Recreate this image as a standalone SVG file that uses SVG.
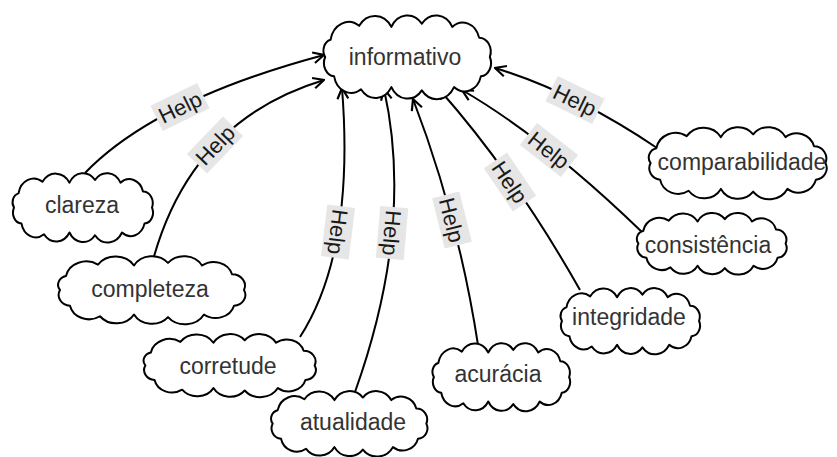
<svg xmlns="http://www.w3.org/2000/svg" width="837" height="457" viewBox="0 0 837 457">
<style>
.cloud{fill:#fff;stroke:#000;stroke-width:2;stroke-linejoin:round}
.nt{font-family:"Liberation Sans",Arial,sans-serif;font-size:23px;fill:#333;text-anchor:middle}
.edge{fill:none;stroke:#000;stroke-width:2;marker-end:url(#arr)}
.lb rect{fill:#e6e6e6}
.lb text{font-family:"Liberation Sans",Arial,sans-serif;font-size:22px;fill:#1a1a1a;text-anchor:middle}
</style>
<defs>
<marker id="arr" markerUnits="userSpaceOnUse" viewBox="0 0 12 12" refX="11" refY="6" markerWidth="13" markerHeight="13" orient="auto">
<path d="M1,1 L11,6 L1,11" fill="none" stroke="#000" stroke-width="2"/>
</marker>
<path id="cl" class="cloud" vector-effect="non-scaling-stroke" d="M14,24 A20.7,20.7 0 0 1 46,11 A21.6,21.6 0 0 1 82,12 A20.5,20.5 0 0 1 116,9 A20.5,20.5 0 0 1 150,12 A19,19 0 0 1 180,22 A13,13 0 0 1 192,40 A12.4,12.4 0 0 1 182,58 A19,19 0 0 1 152,68 A21.7,21.7 0 0 1 116,71 A20.5,20.5 0 0 1 82,68 A20.5,20.5 0 0 1 48,70 A19.4,19.4 0 0 1 18,58 A12.4,12.4 0 0 1 8,40 A10.3,10.3 0 0 1 14,24 Z"/>
</defs>
<g id="connectors">
<path class="edge" d="M85,173 Q155.5,100 324,55"/>
<path class="edge" d="M153,260 Q191.5,120 324,80"/>
<path class="edge" d="M300,337 Q355,251.5 342,88"/>
<path class="edge" d="M355,392 Q414.5,225.5 384,89"/>
<path class="edge" d="M478,345 Q458.5,218 413,99"/>
<path class="edge" d="M580,290 Q515,175 438,88"/>
<path class="edge" d="M643,233 Q545.5,138.5 462,90"/>
<path class="edge" d="M657,148 Q574,92 495,68"/>
<g class="lb" transform="translate(180,107) rotate(-26)"><rect x="-26" y="-14" width="52" height="28"/><text y="8">Help</text></g>
<g class="lb" transform="translate(215,145) rotate(-46)"><rect x="-26" y="-14" width="52" height="28"/><text y="8">Help</text></g>
<g class="lb" transform="translate(338,232) rotate(97)"><rect x="-26" y="-14" width="52" height="28"/><text y="8">Help</text></g>
<g class="lb" transform="translate(392,233) rotate(95)"><rect x="-26" y="-14" width="52" height="28"/><text y="8">Help</text></g>
<g class="lb" transform="translate(452,220) rotate(76)"><rect x="-26" y="-14" width="52" height="28"/><text y="8">Help</text></g>
<g class="lb" transform="translate(510,182) rotate(56)"><rect x="-26" y="-14" width="52" height="28"/><text y="8">Help</text></g>
<g class="lb" transform="translate(549,150) rotate(38)"><rect x="-26" y="-14" width="52" height="28"/><text y="8">Help</text></g>
<g class="lb" transform="translate(575,100) rotate(26)"><rect x="-26" y="-14" width="52" height="28"/><text y="8">Help</text></g>
</g>
<g id="informativo"><use href="#cl" transform="translate(318,14) scale(0.895,1.075)"/><text class="nt" x="405" y="65">informativo</text></g>
<g id="clareza"><use href="#cl" transform="translate(8,172) scale(0.75,0.89)"/><text class="nt" x="82" y="213">clareza</text></g>
<g id="completeza"><use href="#cl" transform="translate(52,255) scale(1,0.875)"/><text class="nt" x="150" y="297">completeza</text></g>
<g id="corretude"><use href="#cl" transform="translate(138,333) scale(0.92,0.81)"/><text class="nt" x="228" y="374">corretude</text></g>
<g id="atualidade"><use href="#cl" transform="translate(266,390) scale(0.835,0.84)"/><text class="nt" x="353" y="430">atualidade</text></g>
<g id="acuracia"><use href="#cl" transform="translate(428,342) scale(0.735,0.875)"/><text class="nt" x="498" y="382">acurácia</text></g>
<g id="integridade"><use href="#cl" transform="translate(556,287) scale(0.745,0.85)"/><text class="nt" x="629" y="325">integridade</text></g>
<g id="consistencia"><use href="#cl" transform="translate(632,212) scale(0.8,0.79)"/><text class="nt" x="708" y="253">consistência</text></g>
<g id="comparabilidade"><use href="#cl" transform="translate(643,126) scale(0.95,0.925)"/><text class="nt" x="742" y="170">comparabilidade</text></g>
</svg>
